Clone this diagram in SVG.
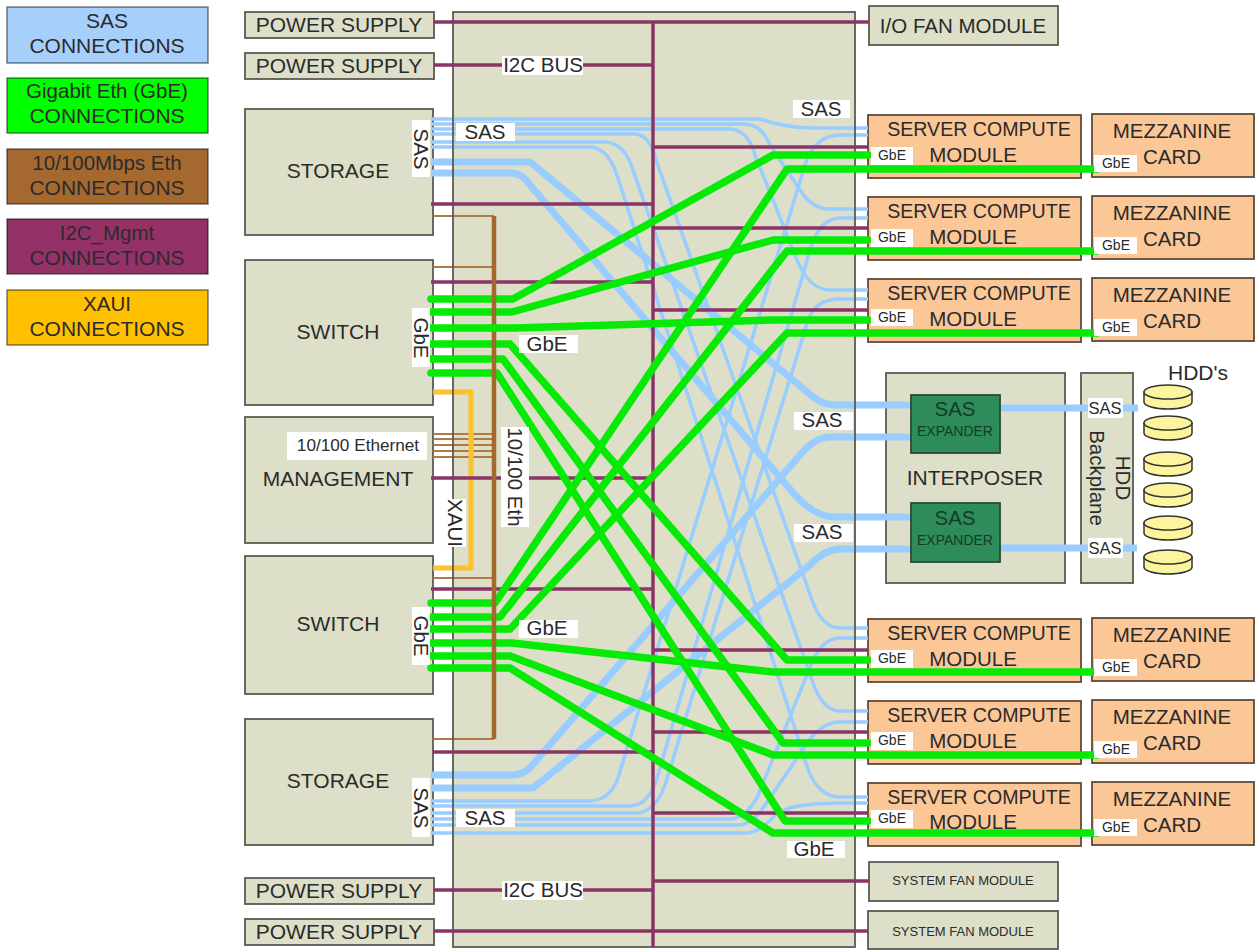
<svg xmlns="http://www.w3.org/2000/svg" width="1255" height="951" viewBox="0 0 1255 951">
<style>
text{font-family:"Liberation Sans",Arial,sans-serif;fill:#2b2b2b;text-anchor:middle}
.n{fill:#dddfc8;stroke:#5a5a52;stroke-width:1.8}
.o{fill:#fbc797;stroke:#5f4a38;stroke-width:1.8}
.x{fill:#2e8b5a;stroke:#2a4a38;stroke-width:1.8}
.lg{stroke:#000;stroke-opacity:.5;stroke-width:1.5}
.f{fill:none;stroke:#5a5a52;stroke-width:1.8}
.t21{font-size:21px}.t20{font-size:20.5px}.t195{font-size:19.6px}.t17{font-size:17.2px}.t16{font-size:16.5px}.t14{font-size:14px}.t13{font-size:13px}
.w{fill:#fff}
.l{fill:none;stroke-linejoin:round}
.st{stroke:#99ccff;stroke-width:3.5}
.sb{stroke:#99ccff;stroke-width:7}
.g{stroke:#06ea06;stroke-width:7.5;stroke-linecap:round}
.p{stroke:#8b3567;stroke-width:3.5}
.b{stroke:#b07a44;stroke-width:2}
.bb{stroke:#a5682f;stroke-width:4.5}
.y{stroke:#fcc22a;stroke-width:5}
.hd{fill:#fdf59e;stroke:#333;stroke-width:1.5}
.dk{fill:#123d26}
</style>
<defs>
<g id="hdd"><path class="hd" d="M0 7V17C0 21 11 24 24 24S48 21 48 17V7Z"/><ellipse class="hd" cx="24" cy="7" rx="24" ry="7"/></g>
</defs>
<g id="legend">
<g id="legend-sas"><rect class="lg" x="7" y="7" width="201" height="56" fill="#a6d0fb"/><text class="t21" x="107" y="28">SAS</text><text class="t21" x="107" y="53">CONNECTIONS</text></g>
<g id="legend-gbe"><rect class="lg" x="7" y="78" width="201" height="55" fill="#00ff00"/><text class="t20" x="107" y="98">Gigabit Eth (GbE)</text><text class="t21" x="107" y="123">CONNECTIONS</text></g>
<g id="legend-eth"><rect class="lg" x="7" y="149" width="201" height="55" fill="#a5682f"/><text class="t20" x="107" y="170">10/100Mbps Eth</text><text class="t21" x="107" y="195">CONNECTIONS</text></g>
<g id="legend-i2c"><rect class="lg" x="7" y="219" width="201" height="55" fill="#943267"/><text class="t20" x="107" y="240">I2C_Mgmt</text><text class="t21" x="107" y="265">CONNECTIONS</text></g>
<g id="legend-xaui"><rect class="lg" x="7" y="290" width="201" height="55" fill="#ffc000"/><text class="t20" x="107" y="311">XAUI</text><text class="t21" x="107" y="336">CONNECTIONS</text></g>
</g>
<g id="midplane"><rect x="453" y="12" width="402" height="935" fill="#dddfc8"/></g>
<g id="power-1"><rect class="n" x="245" y="12" width="189" height="26"/><text class="t21" x="339" y="32">POWER SUPPLY</text></g>
<g id="power-2"><rect class="n" x="245" y="53" width="189" height="26"/><text class="t21" x="339" y="73">POWER SUPPLY</text></g>
<g id="storage-1"><rect class="n" x="245" y="109" width="188" height="126"/><text class="t21" x="338" y="178">STORAGE</text></g>
<g id="switch-1"><rect class="n" x="245" y="260" width="188" height="145"/><text class="t21" x="338" y="339">SWITCH</text></g>
<g id="management"><rect class="n" x="245" y="417" width="188" height="126"/><text class="t21" x="338" y="486">MANAGEMENT</text></g>
<g id="switch-2"><rect class="n" x="245" y="556" width="188" height="138"/><text class="t21" x="338" y="631">SWITCH</text></g>
<g id="storage-2"><rect class="n" x="245" y="719" width="188" height="126"/><text class="t21" x="338" y="788">STORAGE</text></g>
<g id="power-3"><rect class="n" x="245" y="878" width="189" height="26"/><text class="t21" x="339" y="898">POWER SUPPLY</text></g>
<g id="power-4"><rect class="n" x="245" y="919" width="189" height="26"/><text class="t21" x="339" y="939">POWER SUPPLY</text></g>
<g id="io-fan"><rect class="n" x="869" y="6" width="189" height="39"/><text class="t20" x="963" y="33">I/O FAN MODULE</text></g>
<g id="sys-fan-1"><rect class="n" x="869" y="862" width="189" height="39"/><text class="t13" x="963" y="885">SYSTEM FAN MODULE</text></g>
<g id="sys-fan-2"><rect class="n" x="868" y="911" width="190" height="38"/><text class="t13" x="963" y="936">SYSTEM FAN MODULE</text></g>
<g id="server-1"><rect class="o" x="868" y="115" width="213" height="63"/><text class="t195" x="979" y="136">SERVER COMPUTE</text><text class="t20" x="973" y="162">MODULE</text></g>
<g id="server-2"><rect class="o" x="868" y="197" width="213" height="63"/><text class="t195" x="979" y="218">SERVER COMPUTE</text><text class="t20" x="973" y="244">MODULE</text></g>
<g id="server-3"><rect class="o" x="868" y="279" width="213" height="63"/><text class="t195" x="979" y="300">SERVER COMPUTE</text><text class="t20" x="973" y="326">MODULE</text></g>
<g id="server-4"><rect class="o" x="868" y="619" width="213" height="63"/><text class="t195" x="979" y="640">SERVER COMPUTE</text><text class="t20" x="973" y="666">MODULE</text></g>
<g id="server-5"><rect class="o" x="868" y="701" width="213" height="63"/><text class="t195" x="979" y="722">SERVER COMPUTE</text><text class="t20" x="973" y="748">MODULE</text></g>
<g id="server-6"><rect class="o" x="868" y="783" width="213" height="63"/><text class="t195" x="979" y="804">SERVER COMPUTE</text><text class="t20" x="973" y="829">MODULE</text></g>
<g id="mezz-1"><rect class="o" x="1092" y="114" width="162" height="63"/><text class="t20" x="1172" y="138">MEZZANINE</text><text class="t20" x="1172" y="164">CARD</text></g>
<g id="mezz-2"><rect class="o" x="1092" y="196" width="162" height="63"/><text class="t20" x="1172" y="220">MEZZANINE</text><text class="t20" x="1172" y="246">CARD</text></g>
<g id="mezz-3"><rect class="o" x="1092" y="278" width="162" height="63"/><text class="t20" x="1172" y="302">MEZZANINE</text><text class="t20" x="1172" y="328">CARD</text></g>
<g id="mezz-4"><rect class="o" x="1092" y="618" width="162" height="63"/><text class="t20" x="1172" y="642">MEZZANINE</text><text class="t20" x="1172" y="668">CARD</text></g>
<g id="mezz-5"><rect class="o" x="1092" y="700" width="162" height="63"/><text class="t20" x="1172" y="724">MEZZANINE</text><text class="t20" x="1172" y="750">CARD</text></g>
<g id="mezz-6"><rect class="o" x="1092" y="782" width="162" height="63"/><text class="t20" x="1172" y="806">MEZZANINE</text><text class="t20" x="1172" y="832">CARD</text></g>
<g id="interposer"><rect class="n" x="886" y="373" width="179" height="210"/><text class="t21" x="975" y="485">INTERPOSER</text></g>
<g id="hdd-backplane"><rect class="n" x="1081" y="373" width="52" height="210"/><text class="t20" transform="translate(1116 478) rotate(90)">HDD</text><text class="t20" transform="translate(1090 478) rotate(90)">Backplane</text></g>
<g id="hdds">
<text class="t21" x="1198" y="380">HDD's</text>
<use href="#hdd" x="1144" y="385"/><use href="#hdd" x="1144" y="416"/><use href="#hdd" x="1144" y="452"/><use href="#hdd" x="1144" y="483"/><use href="#hdd" x="1144" y="516"/><use href="#hdd" x="1144" y="550"/>
</g>
<g id="connectors">
<g class="l st" fill="none">
<path d="M431 119H760Q785 128 815 128H868"/>
<path d="M431 124H745Q762 125 770 145L800 190Q812 209 830 209H868"/>
<path d="M431 129H730Q748 130 755 155L795 255Q808 290 830 290H868"/>
<path d="M431 134H635Q650 135 656 160L812 600Q822 628 840 628H868"/>
<path d="M431 142H605Q625 143 633 170L812 680Q822 711 840 711H868"/>
<path d="M431 147H590Q608 148 617 175L805 760Q815 797 840 797H868"/>
<path d="M431 801H590Q610 800 618 778L805 165Q815 135 840 135H868"/>
<path d="M431 806H630Q650 805 658 775L810 250Q820 218 840 218H868"/>
<path d="M431 813H635Q655 813 665 785L808 320Q816 299 840 299H868"/>
<path d="M431 819H730Q745 818 757 798L808 672Q820 638 840 638H868"/>
<path d="M431 825H738Q752 825 765 805L808 742Q822 722 840 722H868"/>
<path d="M431 833H745Q760 833 775 815Q790 803 840 803H868"/>
</g>
<g class="l sb" fill="none">
<path d="M431 162H530L805 390Q820 405 835 405H911"/>
<path d="M431 173H512Q522 173 530 185L795 495Q815 517 835 517H911"/>
<path d="M431 775H512Q525 775 535 762L800 455Q815 437 830 437H911"/>
<path d="M431 788H533L810 565Q825 549 840 549H911"/>
<path d="M1000 408H1138"/><path d="M1000 548H1137"/>
</g>
<g class="l b" fill="none">
<path d="M433 216H494M433 267H494M433 434H492M433 439H492M433 445H492M433 451H492M433 457H492M433 578H494M433 739H494"/>
</g>
<path class="l y" d="M433 392H471V568H433"/>
<rect class="f" x="453" y="12" width="402" height="935"/>
<g class="l p" fill="none">
<path d="M653 22V947"/>
<path d="M434 22H869M434 65H653M431 204H653M431 282H653M431 478H653M431 589H653M433 752H653M434 890H653M434 931H868"/>
<path d="M653 147H868M653 228H868M653 310H868M653 650H868M653 732H868M653 813H868M653 881H869"/>
</g>
<g class="l g" fill="none">
<path d="M431 299H513L773 155H868"/>
<path d="M431 312H512L773 240H868"/>
<path d="M431 344H510L787 660H868"/>
<path d="M431 359H503L783 743H868"/>
<path d="M431 373H497L785 821H868"/>
<path d="M431 603H495L787 169H1097"/>
<path d="M431 617H500L787 251H1097"/>
<path d="M431 629H510L787 333H1097"/>
<path d="M431 643H512L773 672H1097"/>
<path d="M431 656H510L773 755H1097"/>
<path d="M431 668H510L773 833H1097"/>
</g>
<path class="l bb" d="M494 216V739"/>
<path class="l g" d="M431 328H515L773 320H868"/>
</g>
<g id="labels">
<rect class="w" x="412" y="120" width="18" height="57"/><text class="t20" transform="translate(414 149) rotate(90)">SAS</text>
<rect class="w" x="412" y="308" width="18" height="59"/><text class="t20" transform="translate(414 338) rotate(90)">GbE</text>
<rect class="w" x="412" y="607" width="18" height="58"/><text class="t20" transform="translate(414 636) rotate(90)">GbE</text>
<rect class="w" x="412" y="778" width="18" height="59"/><text class="t20" transform="translate(414 808) rotate(90)">SAS</text>
<rect class="w" x="456" y="123" width="59" height="18"/><text class="t20" x="485" y="139">SAS</text>
<rect class="w" x="456" y="809" width="59" height="18"/><text class="t20" x="485" y="825">SAS</text>
<rect class="w" x="793" y="100" width="57" height="18"/><text class="t20" x="821" y="116">SAS</text>
<rect class="w" x="794" y="412" width="59" height="18"/><text class="t20" x="822" y="427">SAS</text>
<rect class="w" x="794" y="524" width="59" height="18"/><text class="t20" x="822" y="539">SAS</text>
<rect class="w" x="519" y="335" width="59" height="18"/><text class="t20" x="547" y="351">GbE</text>
<rect class="w" x="519" y="620" width="59" height="18"/><text class="t20" x="547" y="635">GbE</text>
<rect class="w" x="787" y="841" width="58" height="17"/><text class="t20" x="814" y="856">GbE</text>
<rect class="w" x="502" y="56" width="81" height="19"/><text class="t20" x="543" y="72">I2C BUS</text>
<rect class="w" x="502" y="881" width="81" height="19"/><text class="t20" x="543" y="897">I2C BUS</text>
<rect class="w" x="287" y="432" width="140" height="28"/><text class="t17" x="358" y="451">10/100 Ethernet</text>
<rect class="w" x="501" y="427" width="28" height="100"/><text class="t20" transform="translate(508 477) rotate(90)">10/100 Eth</text>
<rect class="w" x="444" y="499" width="22" height="48"/><text class="t20" transform="translate(448 523) rotate(90)">XAUI</text>
<rect class="w" x="871" y="147" width="42" height="18"/><text class="t14" x="892" y="160">GbE</text>
<rect class="w" x="871" y="229" width="42" height="18"/><text class="t14" x="892" y="242">GbE</text>
<rect class="w" x="871" y="309" width="42" height="17"/><text class="t14" x="892" y="322">GbE</text>
<rect class="w" x="871" y="650" width="42" height="18"/><text class="t14" x="892" y="663">GbE</text>
<rect class="w" x="871" y="732" width="42" height="18"/><text class="t14" x="892" y="745">GbE</text>
<rect class="w" x="871" y="810" width="42" height="18"/><text class="t14" x="892" y="823">GbE</text>
<rect class="w" x="1094" y="155" width="43" height="17"/><text class="t14" x="1116" y="168">GbE</text>
<rect class="w" x="1094" y="237" width="43" height="17"/><text class="t14" x="1116" y="250">GbE</text>
<rect class="w" x="1094" y="319" width="43" height="17"/><text class="t14" x="1116" y="332">GbE</text>
<rect class="w" x="1094" y="659" width="43" height="17"/><text class="t14" x="1116" y="672">GbE</text>
<rect class="w" x="1094" y="741" width="43" height="17"/><text class="t14" x="1116" y="754">GbE</text>
<rect class="w" x="1094" y="819" width="43" height="17"/><text class="t14" x="1116" y="832">GbE</text>
<rect class="w" x="1088" y="398" width="35" height="20"/><text class="t16" x="1105" y="414">SAS</text>
<rect class="w" x="1088" y="538" width="35" height="20"/><text class="t16" x="1105" y="554">SAS</text>
</g>
<g id="expander-1"><rect class="x" x="911" y="395" width="89" height="58"/><text class="t20 dk" x="955" y="416" style="fill:#123d26">SAS</text><text class="t14" x="955" y="436" style="fill:#123d26">EXPANDER</text></g>
<g id="expander-2"><rect class="x" x="911" y="503" width="89" height="59"/><text class="t20 dk" x="955" y="525" style="fill:#123d26">SAS</text><text class="t14" x="955" y="545" style="fill:#123d26">EXPANDER</text></g>
</svg>
